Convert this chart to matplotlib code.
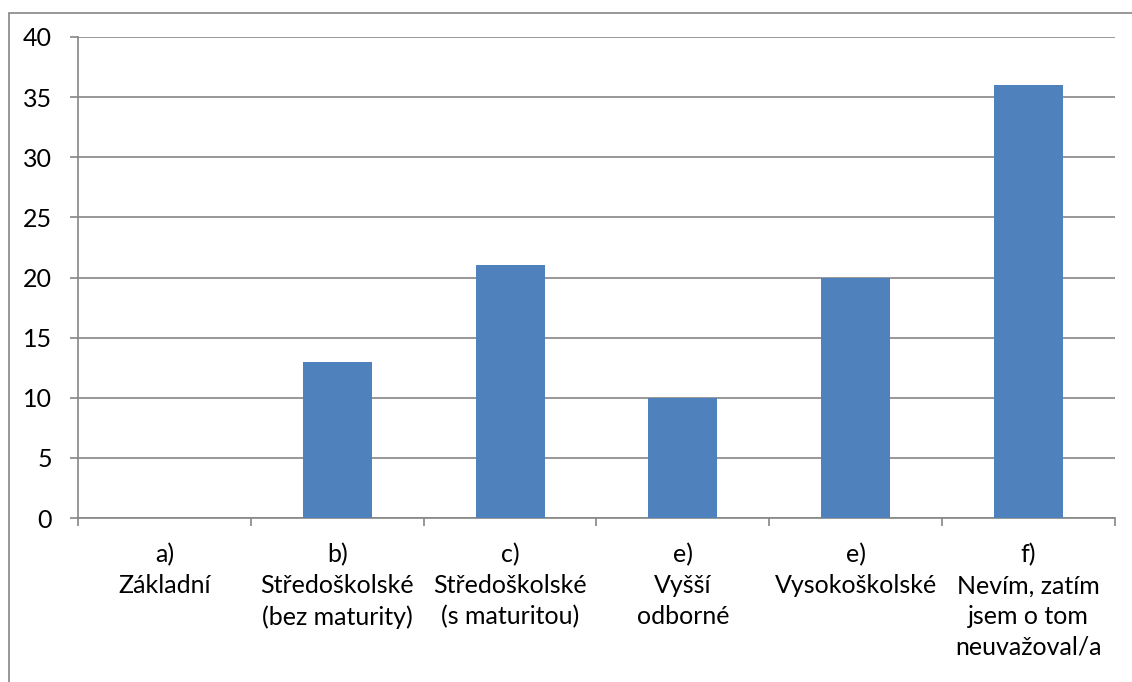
import matplotlib
matplotlib.use("Agg")
import matplotlib.pyplot as plt
from matplotlib.patches import Rectangle

categories = ["a)\nZákladní", "b)\nStředoškolské\n(bez maturity)", "c)\nStředoškolské\n(s maturitou)",
              "e)\nVyšší\nodborné", "e)\nVysokoškolské", "f)\nNevím, zatím\njsem o tom\nneuvažoval/a"]
values = [0, 13, 21, 10, 20, 36]
yticks = [0, 5, 10, 15, 20, 25, 30, 35, 40]

plt.rcParams['font.family'] = ['Lato', 'DejaVu Sans']
W, H = 1132, 682
fig = plt.figure(figsize=(W/100, H/100), dpi=100)
ax = fig.add_axes([78/W, 1-518/H, (1115-78)/W, (518-37)/H])

grey = '#868686'
x = list(range(len(categories)))
ax.bar(x, values, width=0.4, color='#4F81BD', zorder=3)
ax.set_xlim(-0.5, len(categories)-0.5)
ax.set_ylim(0, 40)
ax.set_yticks(yticks)
ax.set_yticklabels([str(v) for v in yticks], fontsize=18)
ax.yaxis.grid(True, color=grey, linewidth=1.2, zorder=0)
ax.set_xticks([i-0.5 for i in range(len(categories)+1)])
ax.set_xticklabels([])
ax.set_xticks(x, minor=True)
ax.set_xticklabels(categories, minor=True, fontsize=18, linespacing=1.41, va='top')
ax.tick_params(axis='x', which='minor', length=0, pad=18)
ax.tick_params(axis='x', which='major', length=5.8, color=grey, width=1.2)
ax.tick_params(axis='y', length=5.8, color=grey, width=1.2, pad=13)
for s in ['top', 'right']:
    ax.spines[s].set_visible(False)
for s in ['left', 'bottom']:
    ax.spines[s].set_color(grey)
    ax.spines[s].set_linewidth(1.2)

fig.patches.append(Rectangle((8.5/W, -0.1), 1.2, 1-12.5/H+0.1, transform=fig.transFigure,
                             fill=False, edgecolor=grey, linewidth=1.2))
fig.savefig("out.png", dpi=100)
